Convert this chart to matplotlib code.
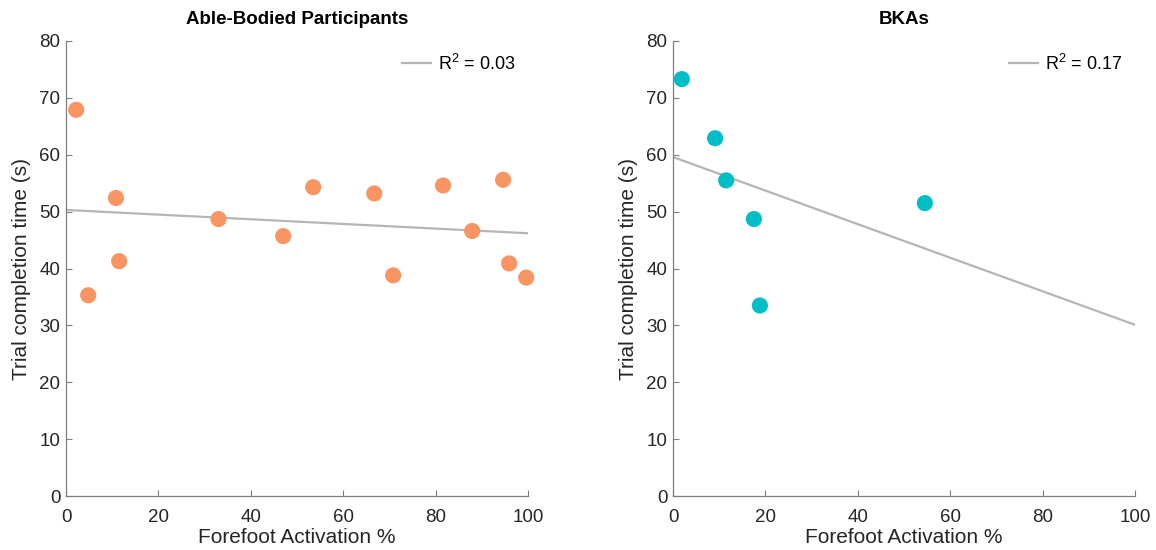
import numpy as np
import matplotlib
matplotlib.use("Agg")
import matplotlib.pyplot as plt

plt.rcParams['font.family'] = ['Liberation Sans', 'DejaVu Sans']
plt.rcParams['mathtext.fontset'] = 'custom'
plt.rcParams['mathtext.rm'] = 'Liberation Sans'
plt.rcParams['mathtext.it'] = 'Liberation Sans'

# --- Data ---
ab_forefoot = [2.2, 4.8, 10.8, 11.5, 33.0, 47.0, 53.5, 66.7, 70.8, 81.6, 87.9, 94.6, 95.9, 99.6]
ab_time = [67.9, 35.3, 52.4, 41.3, 48.7, 45.7, 54.3, 53.2, 38.8, 54.6, 46.6, 55.6, 40.9, 38.4]
ab_fit = [50.3, 46.2]   # fitted line at x=0 and x=100
ab_r2 = "0.03"

bka_forefoot = [1.9, 9.1, 11.5, 17.5, 18.8, 54.5]
bka_time = [73.3, 62.9, 55.5, 48.7, 33.5, 51.5]
bka_fit = [59.6, 30.1]
bka_r2 = "0.17"

fit_x = [0, 100]
titles = ["Able-Bodied Participants", "BKAs"]
colors = ["#F99562", "#00BEC5"]

fig = plt.figure(figsize=(11.56, 5.5), dpi=100)
ax1 = fig.add_axes([0.0571, 0.098, 0.3997, 0.8275])
ax2 = fig.add_axes([0.5822, 0.098, 0.3997, 0.8275])

panels = [(ax1, ab_forefoot, ab_time, ab_fit, ab_r2),
          (ax2, bka_forefoot, bka_time, bka_fit, bka_r2)]

for i, (ax, x, y, fit, r2) in enumerate(panels):
    ax.scatter(x, y, s=135, color=colors[i], edgecolors='none', zorder=3, clip_on=False)
    ax.plot(fit_x, fit, color="#B5B5B5", linewidth=1.6, label=r"R$^2$ = " + r2, zorder=2)

    ax.set_xlim(0, 100)
    ax.set_ylim(0, 80)
    ax.set_xticks(np.arange(0, 101, 20))
    ax.set_yticks(np.arange(0, 81, 10))
    for side in ["top", "right"]:
        ax.spines[side].set_visible(False)
    for side in ["left", "bottom"]:
        ax.spines[side].set_color("#7F7F7F")
        ax.spines[side].set_linewidth(0.9)
    ax.tick_params(direction='in', length=4, color="#7F7F7F", labelsize=13.5,
                   labelcolor="#262626")
    ax.tick_params(axis='x', pad=9)
    ax.tick_params(axis='y', pad=4)
    ax.set_xlabel("Forefoot Activation %", fontsize=15, color="#262626", labelpad=2)
    ax.set_ylabel("Trial completion time (s)", fontsize=15, color="#262626", labelpad=6)
    ax.set_title(titles[i], fontsize=13.5, fontweight='bold', pad=12)
    ax.legend(loc='upper right', frameon=False, fontsize=13, handlelength=1.6,
              handletextpad=0.4, borderaxespad=0.3)

fig.savefig("out.png", dpi=100)
